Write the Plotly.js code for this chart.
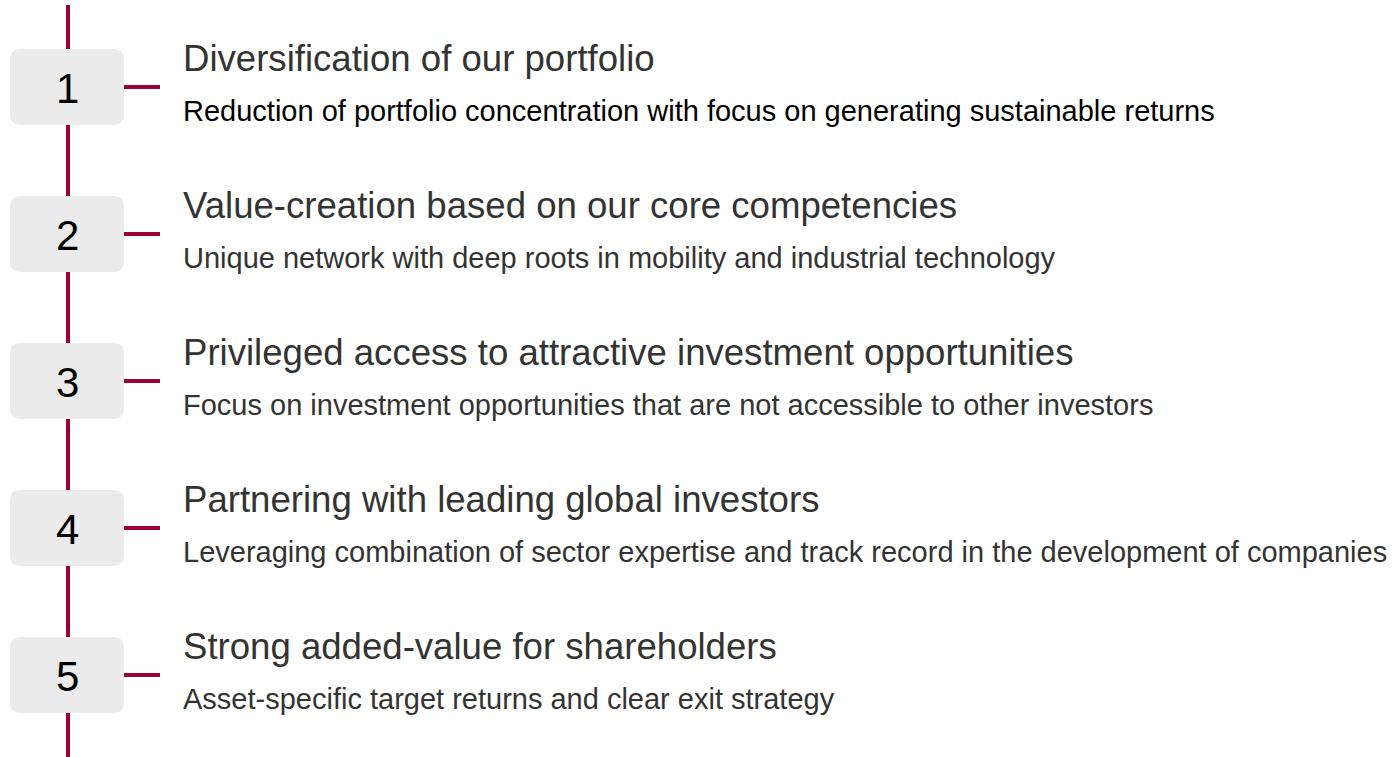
<!DOCTYPE html>
<html>
<head>
<meta charset="utf-8">
<script src="https://cdn.plot.ly/plotly-3.0.1.min.js"></script>
<style>html,body{margin:0;padding:0;background:#fff;}#chart{width:1398px;height:757px;}</style>
</head>
<body>
<div id="chart"></div>
<script>
const numbers = ["1", "2", "3", "4", "5"];
const titles = [
  "Diversification of our portfolio",
  "Value-creation based on our core competencies",
  "Privileged access to attractive investment opportunities",
  "Partnering with leading global investors",
  "Strong added-value for shareholders"
];
const subtitles = [
  "Reduction of portfolio concentration with focus on generating sustainable returns",
  "Unique network with deep roots in mobility and industrial technology",
  "Focus on investment opportunities that are not accessible to other investors",
  "Leveraging combination of sector expertise and track record in the development of companies",
  "Asset-specific target returns and clear exit strategy"
];
const subtitleColors = ["#000000", "#333333", "#333333", "#333333", "#333333"];

const W = 1398, H = 757;
const accent = "#9b0036";
const FONT = "Liberation Sans, Arial, Helvetica, sans-serif";
const rowY = i => 87 + i * 147;
const lineX = 68, boxL = 10, boxR = 124, boxH = 76, r = 11;
const tickL = 124, tickR = 160, textX = 181;

const shapes = [];
shapes.push({type: "line", xref: "x", yref: "y", x0: lineX, x1: lineX, y0: 5, y1: H,
  line: {color: accent, width: 4}, layer: "below"});
numbers.forEach((n, i) => {
  const cy = rowY(i), t = cy - boxH / 2, b = cy + boxH / 2;
  const path = `M ${boxL + r} ${t} L ${boxR - r} ${t} Q ${boxR} ${t} ${boxR} ${t + r} L ${boxR} ${b - r} Q ${boxR} ${b} ${boxR - r} ${b} L ${boxL + r} ${b} Q ${boxL} ${b} ${boxL} ${b - r} L ${boxL} ${t + r} Q ${boxL} ${t} ${boxL + r} ${t} Z`;
  shapes.push({type: "path", path: path, xref: "x", yref: "y", fillcolor: "#ebebeb", line: {width: 0}, layer: "below"});
  shapes.push({type: "line", xref: "x", yref: "y", x0: tickL, x1: tickR, y0: cy, y1: cy,
    line: {color: accent, width: 4}, layer: "below"});
});

const annotations = [];
numbers.forEach((n, i) => {
  const cy = rowY(i);
  annotations.push({x: (boxL + boxR) / 2, y: cy + 1, xref: "x", yref: "y", text: n, showarrow: false,
    xanchor: "center", yanchor: "middle", font: {family: FONT, size: 42, color: "#000"}});
  annotations.push({x: textX, y: cy - 29, xref: "x", yref: "y", text: titles[i], showarrow: false,
    xanchor: "left", yanchor: "middle", font: {family: FONT, size: 36.6, color: "#333333"}});
  annotations.push({x: textX, y: cy + 24, xref: "x", yref: "y", text: subtitles[i], showarrow: false,
    xanchor: "left", yanchor: "middle", font: {family: FONT, size: 29, color: subtitleColors[i]}});
});

const layout = {
  width: W, height: H,
  margin: {l: 0, r: 0, t: 0, b: 0},
  paper_bgcolor: "#ffffff", plot_bgcolor: "#ffffff",
  xaxis: {range: [0, W], visible: false, fixedrange: true},
  yaxis: {range: [H, 0], visible: false, fixedrange: true},
  showlegend: false,
  shapes: shapes,
  annotations: annotations
};
Plotly.newPlot("chart", [{x: [], y: [], type: "scatter", mode: "markers"}], layout, {displayModeBar: false, staticPlot: true});
</script>
</body>
</html>
